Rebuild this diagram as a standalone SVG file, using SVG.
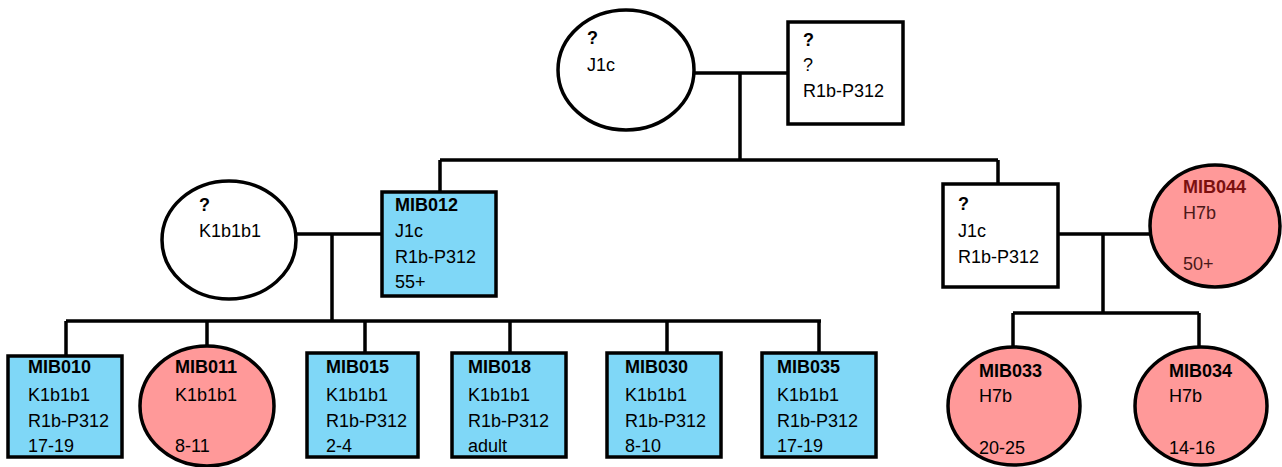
<svg xmlns="http://www.w3.org/2000/svg" width="1282" height="467" viewBox="0 0 1282 467">
<style>
.n{stroke:#000;stroke-width:3.5}
.w{fill:#fff}
.b{fill:#7fd7f7}
.p{fill:#ff9999}
text{font-family:"Liberation Sans",Arial,sans-serif;font-size:18px;fill:#000}
.h{font-weight:bold}
.dr{fill:#7a1010}
.dr2{fill:#4a1818}
.c{stroke:#000;stroke-width:3.5;fill:none}
</style>
<rect width="1282" height="467" fill="#fff"/>
<g id="connectors">
<path class="c" d="M695 73H788M740 73V160M440 160H998M440 160V192M998 160V184"/>
<path class="c" d="M296 234H382M332 234V321M66 321H821M66 321V356M207 321V347M365 321V353M510 321V353M667 321V353M819 321V353"/>
<path class="c" d="M1058 234H1150M1103 234V313M1013 313H1199M1013 313V347M1199 313V347"/>
</g>
<g id="gm"><ellipse class="n w" cx="626" cy="70" rx="68" ry="60"/><text x="587" y="44" class="h">?</text><text x="587" y="71">J1c</text></g>
<g id="gf"><rect class="n w" x="788" y="22" width="115" height="102"/><text x="803" y="46" class="h">?</text><text x="803" y="71">?</text><text x="803" y="97">R1b-P312</text></g>
<g id="m1"><ellipse class="n w" cx="229" cy="240" rx="67" ry="59"/><text x="199" y="211" class="h">?</text><text x="199" y="237">K1b1b1</text></g>
<g id="MIB012"><rect class="n b" x="382" y="192" width="114" height="104"/><text x="395" y="211" class="h">MIB012</text><text x="395" y="237">J1c</text><text x="395" y="263">R1b-P312</text><text x="395" y="288">55+</text></g>
<g id="f2"><rect class="n w" x="943" y="184" width="115" height="103"/><text x="958" y="210" class="h">?</text><text x="958" y="237">J1c</text><text x="958" y="263">R1b-P312</text></g>
<g id="MIB044"><ellipse class="n p" cx="1215" cy="226" rx="65" ry="61"/><text x="1183" y="193" class="h dr">MIB044</text><text x="1183" y="219" class="dr2">H7b</text><text x="1183" y="270" class="dr2">50+</text></g>
<g id="MIB010"><rect class="n b" x="8" y="356" width="114" height="101"/><text x="28" y="373" class="h">MIB010</text><text x="28" y="401">K1b1b1</text><text x="28" y="427">R1b-P312</text><text x="28" y="452">17-19</text></g>
<g id="MIB011"><ellipse class="n p" cx="207" cy="406" rx="67" ry="60"/><text x="175" y="373" class="h">MIB011</text><text x="175" y="401">K1b1b1</text><text x="175" y="452">8-11</text></g>
<g id="MIB015"><rect class="n b" x="307" y="353" width="111" height="104"/><text x="326" y="373" class="h">MIB015</text><text x="326" y="401">K1b1b1</text><text x="326" y="427">R1b-P312</text><text x="326" y="452">2-4</text></g>
<g id="MIB018"><rect class="n b" x="452" y="353" width="114" height="104"/><text x="468" y="373" class="h">MIB018</text><text x="468" y="401">K1b1b1</text><text x="468" y="427">R1b-P312</text><text x="468" y="452">adult</text></g>
<g id="MIB030"><rect class="n b" x="607" y="353" width="114" height="104"/><text x="625" y="373" class="h">MIB030</text><text x="625" y="401">K1b1b1</text><text x="625" y="427">R1b-P312</text><text x="625" y="452">8-10</text></g>
<g id="MIB035"><rect class="n b" x="762" y="353" width="114" height="104"/><text x="777" y="373" class="h">MIB035</text><text x="777" y="401">K1b1b1</text><text x="777" y="427">R1b-P312</text><text x="777" y="452">17-19</text></g>
<g id="MIB033"><ellipse class="n p" cx="1014" cy="406" rx="66" ry="59"/><text x="979" y="377" class="h">MIB033</text><text x="979" y="402">H7b</text><text x="979" y="454">20-25</text></g>
<g id="MIB034"><ellipse class="n p" cx="1201" cy="406" rx="66" ry="59"/><text x="1169" y="377" class="h">MIB034</text><text x="1169" y="402">H7b</text><text x="1169" y="454">14-16</text></g>
</svg>
